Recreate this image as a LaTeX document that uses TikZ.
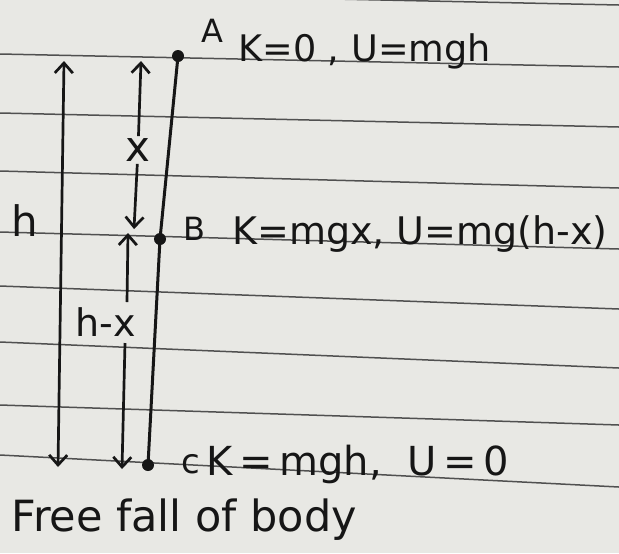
\documentclass[tikz,border=0pt]{standalone}
\usepackage{fontspec}
\setmainfont{DejaVu Sans}
\usepackage{xcolor}
\usepackage{tikz}
\usetikzlibrary{arrows.meta}
\definecolor{paper}{RGB}{232,232,228}
\definecolor{rule}{RGB}{80,80,80}
\definecolor{ink}{RGB}{22,22,22}
\tikzset{every node/.append style={font=\fontsize{19}{22}\selectfont, text=ink, inner sep=1pt}}
\tikzset{rulings/.style={rule, line width=0.75pt}}
\tikzset{dim/.style={ink, line width=1.35pt}}

\begin{document}
\begin{tikzpicture}[x=0.5pt, y=-0.5pt, >={Straight Barb[length=5pt, width=9pt]}]
    \fill[paper] (0,0) rectangle (619,553);
    \useasboundingbox (0,0) rectangle (619,553);
    % ruled lines of the notebook (left end / right end)
    \foreach \l/\r in {-8/5, 54/67, 113/127, 171/188, 232/249, 286/309, 342/368, 405/425, 455/487}
        \draw[rulings] (0,\l) -- (619,\r);
    % positions of the body
    \coordinate (A) at (178,56);
    \coordinate (B) at (160,239);
    \coordinate (C) at (148,465);
    \draw[dim, line width=1.5pt] (A) -- (B) -- (C);
    \foreach \p in {A,B,C} \fill[ink] (\p) circle (3pt);
    % labels and energies
    \node[anchor=base west, font=\fontsize{16}{18}\selectfont] (Alab) at (199,42) {A};
    \node[anchor=base west, font=\fontsize{18.3}{22}\selectfont] (Aeq) at (236,61) {K=0 , U=mgh};
    \node[anchor=base west, font=\fontsize{16}{18}\selectfont] (Blab) at (181,240) {B};
    \node[anchor=base west, font=\fontsize{19}{22}\selectfont] (Beq) at (230,244) {K=mgx, U=mg(h-x)};
    \node[anchor=base west, font=\fontsize{17}{18}\selectfont] (Clab) at (179,473) {c};
    \node[anchor=base west, font=\fontsize{20}{24}\selectfont] (Ceq) at (204,475) {K\,=\,mgh, \ U\,=\,0};
    % whole height h
    \coordinate (htop) at (64,61);
    \coordinate (hbot) at (58,467);
    \draw[dim, <->] (htop) -- (hbot);
    \node[anchor=base west, font=\fontsize{21}{24}\selectfont] (hlab) at (9,236) {h};
    % distance fallen x
    \coordinate (xtop) at (141,61);
    \coordinate (xbot) at (134,229);
    \node[font=\fontsize{21}{24}\selectfont] (xlab) at (138,150) {x};
    \draw[dim, ->] (xlab) -- (xtop);
    \draw[dim, ->] (xlab) -- (xbot);
    % height left h-x
    \coordinate (hxtop) at (128,233);
    \coordinate (hxbot) at (122,469);
    \coordinate (hxup) at (127,302);
    \coordinate (hxdn) at (125,343);
    \node (hxlab) at (106,322) {h-x};
    \draw[dim, ->] (hxup) -- (hxtop);
    \draw[dim, ->] (hxdn) -- (hxbot);
    % caption
    \node[anchor=base west, font=\fontsize{21.5}{26}\selectfont] (cap) at (9,531) {Free fall of body};
\end{tikzpicture}
\end{document}
